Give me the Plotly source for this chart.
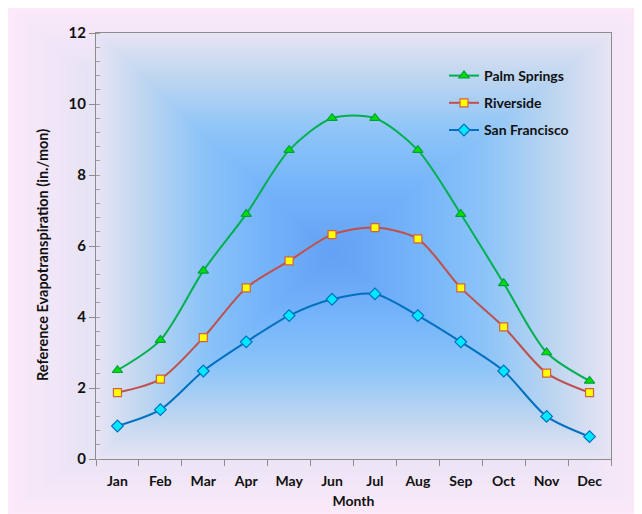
import base64, struct, zlib
import numpy as np
import plotly.graph_objects as go

months = ["Jan", "Feb", "Mar", "Apr", "May", "Jun", "Jul", "Aug", "Sep", "Oct", "Nov", "Dec"]
palm_springs = [2.5, 3.35, 5.3, 6.9, 8.7, 9.6, 9.6, 8.7, 6.9, 4.95, 3.0, 2.2]
riverside = [1.87, 2.25, 3.42, 4.82, 5.58, 6.32, 6.52, 6.2, 4.82, 3.72, 2.42, 1.87]
san_francisco = [0.93, 1.39, 2.48, 3.3, 4.04, 4.5, 4.65, 4.04, 3.3, 2.48, 1.2, 0.63]

# the page body adds an 8px offset; figure occupies the rest of the window
W, H = 634, 506
L, R, T, B = 88, 603, 25, 451  # plot area in figure pixels


def png_uri(arr):
    h, w, _ = arr.shape
    raw = b"".join(b"\x00" + arr[i].tobytes() for i in range(h))

    def chunk(t, d):
        return struct.pack(">I", len(d)) + t + d + struct.pack(">I", zlib.crc32(t + d) & 0xFFFFFFFF)

    png = (b"\x89PNG\r\n\x1a\n" + chunk(b"IHDR", struct.pack(">IIBBBBB", w, h, 8, 2, 0, 0, 0))
           + chunk(b"IDAT", zlib.compress(raw, 9)) + chunk(b"IEND", b""))
    return "data:image/png;base64," + base64.b64encode(png).decode()


def path_gradient(w, h, cx, cy, stops_t, stops_c):
    xs = np.arange(w) + 0.5
    ys = np.arange(h) + 0.5
    X, Y = np.meshgrid(xs, ys)
    dx = np.where(X < cx, (cx - X) / cx, (X - cx) / (w - cx))
    dy = np.where(Y < cy, (cy - Y) / cy, (Y - cy) / (h - cy))
    t = np.clip(np.maximum(dx, dy), 0, 1)
    c = np.array(stops_c, dtype=float)
    out = np.stack([np.interp(t, stops_t, c[:, k]) for k in range(3)], axis=-1)
    return out.round().astype(np.uint8)


pw, ph = R - L, B - T
plot_img = path_gradient(pw, ph, pw * 0.46, ph * 0.52,
                         [0, 0.3, 0.55, 0.8, 1.0],
                         [(100, 160, 244), (116, 180, 250), (140, 196, 248), (190, 214, 240), (232, 228, 244)])
chart_img = path_gradient(W, H, W * 0.5, H * 0.5,
                          [0, 0.7, 1.0],
                          [(216, 222, 244), (226, 226, 243), (252, 233, 250)])

fig = go.Figure()
series = [
    ("Palm Springs", palm_springs, "#00b050", "triangle-up", "#00e000", "#00a040", 9),
    ("Riverside", riverside, "#c0504d", "square", "#ffff00", "#d0604a", 8),
    ("San Francisco", san_francisco, "#0070c0", "diamond", "#00e8ff", "#0070c0", 9),
]
for name, vals, lc, sym, fill, edge, size in series:
    fig.add_trace(go.Scatter(
        x=months, y=vals, name=name, legendgroup=name, mode="lines+markers",
        line=dict(color=lc, width=2, shape="spline", smoothing=0.8),
        marker=dict(symbol=sym, size=size, color=fill, line=dict(color=edge, width=1.2)),
    ))

font_family = "Lato, 'Open Sans', sans-serif"
axis_col = "#8c8c8c"
fig.update_layout(
    width=W, height=H,
    margin=dict(l=L, r=W - R, t=T, b=H - B, autoexpand=False),
    paper_bgcolor="white",
    plot_bgcolor="rgba(0,0,0,0)",
    font=dict(family=font_family, size=13, color="#111111"),
    showlegend=True,
    legend=dict(x=(436 - L) / pw, y=(B - 52) / ph, xanchor="left", yanchor="top",
                bgcolor="rgba(0,0,0,0)", font=dict(size=14, family=font_family, weight="bold"),
                itemwidth=30, tracegroupgap=6),
    images=[
        dict(source=png_uri(chart_img), xref="paper", yref="paper",
             x=-L / pw, y=B / ph, sizex=W / pw, sizey=H / ph,
             xanchor="left", yanchor="top", sizing="stretch", layer="below"),
        dict(source=png_uri(plot_img), xref="paper", yref="paper",
             x=0, y=1, sizex=1, sizey=1, xanchor="left", yanchor="top",
             sizing="stretch", layer="below"),
    ],
    annotations=[dict(
        text="Reference Evapotranspiration (in./mon)", textangle=-90,
        xref="paper", yref="paper", x=(34 - L) / pw, y=(B - 247) / ph,
        xanchor="center", yanchor="middle", showarrow=False,
        font=dict(size=14.5, family=font_family, weight="bold", color="#111111"),
    )],
)
fig.update_xaxes(
    type="category", categoryorder="array", categoryarray=months,
    showgrid=False, showline=True, linecolor=axis_col, linewidth=1.3, mirror=True,
    ticks="outside", tickson="boundaries", ticklen=6, tickcolor=axis_col, tickwidth=1,
    ticklabelstandoff=9,
    tickfont=dict(size=14, family=font_family, weight="bold"),
    title=dict(text="Month", font=dict(size=14, family=font_family, weight="bold"), standoff=8),
    range=[-0.5, 11.5], zeroline=False,
)
fig.update_yaxes(
    range=[0, 12], dtick=2, showgrid=False, showline=True, linecolor=axis_col, linewidth=1.3,
    mirror=True, ticks="outside", ticklen=6, tickcolor=axis_col, zeroline=False,
    minor=dict(ticks="inside", dtick=0.4, ticklen=4, tickcolor="#a0a0a0", showgrid=False),
    tickfont=dict(size=15, family=font_family, weight="bold"),
)
fig.write_html("out.html")
